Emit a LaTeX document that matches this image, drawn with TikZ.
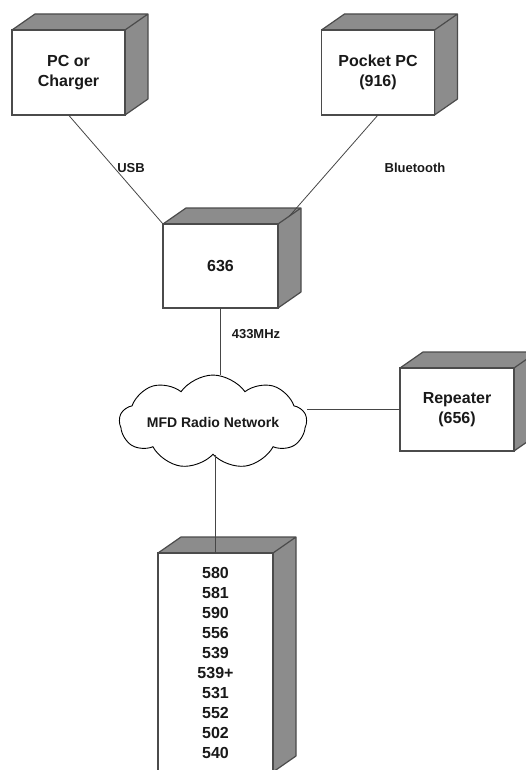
\documentclass[tikz,border=0pt]{standalone}
\usepackage{fontspec}
\setmainfont{Liberation Sans}
\usetikzlibrary{shapes,positioning,calc}
\definecolor{boxline}{RGB}{75,75,75}
\definecolor{boxface}{RGB}{140,140,140}
\definecolor{wire}{RGB}{70,70,70}
\definecolor{ink}{RGB}{25,25,25}

\begin{document}
\begin{tikzpicture}[x=1pt,y=-1pt,
  box/.style={draw=boxline,fill=white,line width=1.2pt,outer sep=0pt,inner sep=0pt,
    minimum width=113pt,minimum height=85pt,align=center,text=ink,
    font=\fontsize{16}{20}\selectfont\bfseries,
    append after command={\pgfextra{%
      \draw[draw=boxline,fill=boxface,line width=1.2pt,line join=round]
        (\tikzlastnode.north west) -- ++(23,-16)
        -- ([shift={(23,-16)}]\tikzlastnode.north east)
        -- ([shift={(23,-16)}]\tikzlastnode.south east)
        -- (\tikzlastnode.south east) -- (\tikzlastnode.north east) -- cycle
        (\tikzlastnode.north east) -- ++(23,-16);}}},
  net/.style={cloud,cloud puffs=9,cloud puff arc=110,aspect=2.9,draw=black,fill=white,
    line width=0.9pt,minimum width=187pt,minimum height=80pt,inner sep=0pt,text=ink,
    font=\fontsize{14}{16}\selectfont\bfseries},
  wire/.style={draw=wire,line width=0.8pt},
  lbl/.style={text=ink,font=\fontsize{13}{15}\selectfont\bfseries,inner sep=1pt}]
  \useasboundingbox (0,0) rectangle (526,770);
  \clip (0,0) rectangle (526,770);
  %
  \node[box](pc) at (68.5,72.5){PC or\\Charger};
  \node[box,right=196.5pt of pc](pocket){Pocket PC\\(916)};
  \node[box,minimum width=115pt,minimum height=84pt](radio) at (220.5,266){636};
  \node[net](cloudnet) at (213,422){MFD Radio Network};
  \node[box,minimum width=114pt,minimum height=83pt](rep) at (457,409.5){Repeater\\(656)};
  \node[box,minimum width=115pt,minimum height=219pt](dev) at (215.5,662.5)
    {580\\581\\590\\556\\539\\539+\\531\\552\\502\\540};
  \coordinate (bt) at ($(radio.north east)+(11.5,-8)$);
  %
  \draw[wire] (pc.south) -- (radio.north west);
  \draw[wire] (pocket.south) -- (bt);
  \draw[wire] (radio.south) -- (radio.south |- cloudnet.north);
  \draw[wire] (rep.west) -- (rep.west -| cloudnet.east);
  \draw[wire] (dev.north) -- (dev.north |- cloudnet.south);
  %
  \node[lbl](usb) at (131,168){USB};
  \node[lbl](blue) at (415,168){Bluetooth};
  \node[lbl](mhz) at (256,334){433MHz};
\end{tikzpicture}
\end{document}
